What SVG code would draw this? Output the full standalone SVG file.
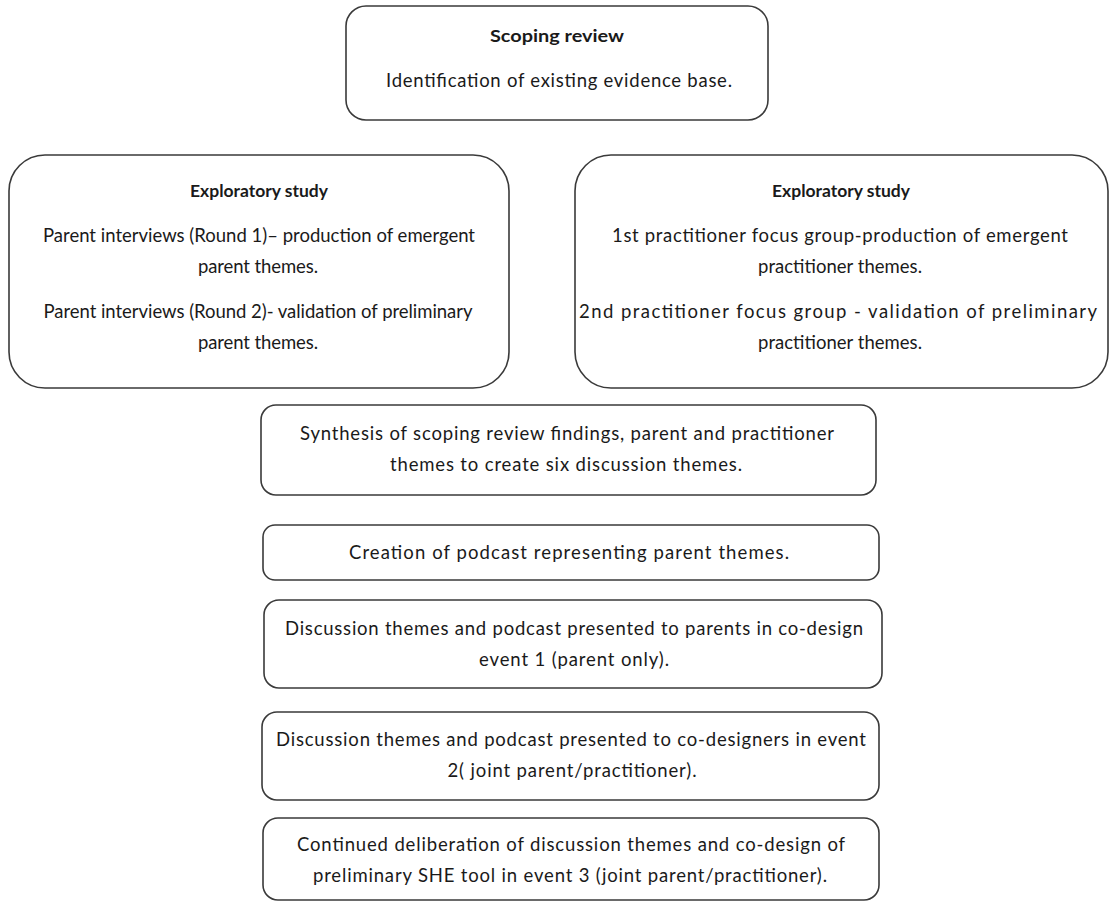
<svg xmlns="http://www.w3.org/2000/svg" width="1112" height="903" viewBox="0 0 1112 903">
<style>
.box{fill:#ffffff;stroke:#3a3a3a;stroke-width:1.6}
text{font-family:Lato,"Liberation Sans",Arial,sans-serif;font-size:18.5px;fill:#1a1a1a;text-anchor:middle}
.b{font-weight:bold;font-size:17px}
</style>
<rect width="1112" height="903" fill="#ffffff"/>
<g id="connectors"></g>
<g id="scoping">
<rect class="box" x="346" y="6" width="422" height="114" rx="20"/>
<text class="b" x="557" y="42" textLength="134" lengthAdjust="spacingAndGlyphs">Scoping review</text>
<text x="559" y="87" textLength="346" lengthAdjust="spacing">Identification of existing evidence base.</text>
</g>
<g id="exploratory-parent">
<rect class="box" x="9" y="155" width="500" height="233" rx="36"/>
<text class="b" x="259" y="197" textLength="138" lengthAdjust="spacingAndGlyphs">Exploratory study</text>
<text x="259" y="242" textLength="432" lengthAdjust="spacing">Parent interviews (Round 1)– production of emergent</text>
<text x="258" y="273" textLength="120" lengthAdjust="spacing">parent themes.</text>
<text x="258" y="318" textLength="429" lengthAdjust="spacing">Parent interviews (Round 2)- validation of preliminary</text>
<text x="258" y="349" textLength="120" lengthAdjust="spacing">parent themes.</text>
</g>
<g id="exploratory-practitioner">
<rect class="box" x="575" y="155" width="533" height="233" rx="36"/>
<text class="b" x="841" y="197" textLength="138" lengthAdjust="spacingAndGlyphs">Exploratory study</text>
<text x="840" y="242" textLength="456" lengthAdjust="spacing">1st practitioner focus group-production of emergent</text>
<text x="840" y="273" textLength="164" lengthAdjust="spacing">practitioner themes.</text>
<text x="838" y="318" textLength="518" lengthAdjust="spacing">2nd practitioner focus group - validation of preliminary</text>
<text x="840" y="349" textLength="164" lengthAdjust="spacing">practitioner themes.</text>
</g>
<g id="synthesis">
<rect class="box" x="261" y="405" width="615" height="90" rx="15"/>
<text x="567" y="440" textLength="534" lengthAdjust="spacing">Synthesis of scoping review findings, parent and practitioner</text>
<text x="566" y="471" textLength="352" lengthAdjust="spacing">themes to create six discussion themes.</text>
</g>
<g id="podcast">
<rect class="box" x="263" y="525" width="616" height="55" rx="12"/>
<text x="569" y="559" textLength="440" lengthAdjust="spacing">Creation of podcast representing parent themes.</text>
</g>
<g id="event1">
<rect class="box" x="264" y="600" width="618" height="88" rx="15"/>
<text x="574" y="635" textLength="578" lengthAdjust="spacing">Discussion themes and podcast presented to parents in co-design</text>
<text x="574" y="666" textLength="190" lengthAdjust="spacing">event 1 (parent only).</text>
</g>
<g id="event2">
<rect class="box" x="262" y="712" width="617" height="88" rx="15"/>
<text x="571" y="746" textLength="590" lengthAdjust="spacing">Discussion themes and podcast presented to co-designers in event</text>
<text x="572" y="777" textLength="249" lengthAdjust="spacing">2( joint parent/practitioner).</text>
</g>
<g id="event3">
<rect class="box" x="263" y="818" width="616" height="82" rx="15"/>
<text x="571" y="851" textLength="548" lengthAdjust="spacing">Continued deliberation of discussion themes and co-design of</text>
<text x="570" y="882" textLength="514" lengthAdjust="spacing">preliminary SHE tool in event 3 (joint parent/practitioner).</text>
</g>
</svg>
